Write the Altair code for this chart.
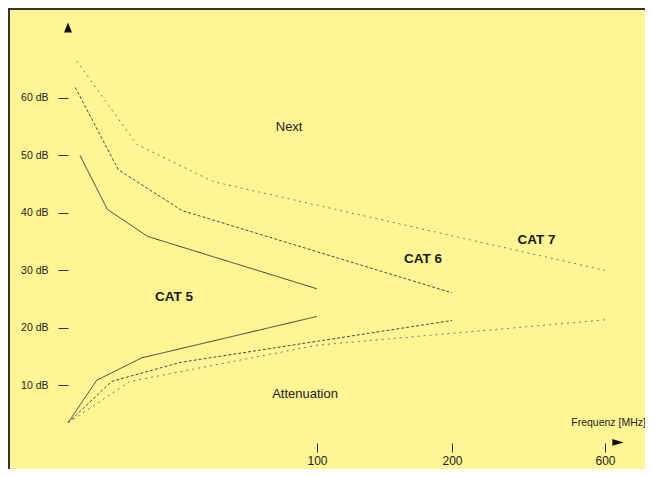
import altair as alt
import pandas as pd

# ---- data ----
cat5_next_f = [4.8, 15.8, 32, 100]
cat5_next_db = [50.0, 40.6, 35.9, 26.8]
cat5_att_f = [0, 11.5, 29.6, 100]
cat5_att_db = [3.5, 10.9, 14.8, 22.0]

cat6_next_f = [2.9, 20.2, 45.8, 200]
cat6_next_db = [61.8, 47.5, 40.4, 26.1]
cat6_att_f = [0, 17.5, 45, 200]
cat6_att_db = [3.5, 10.7, 14.0, 21.3]

cat7_next_f = [3.5, 27.6, 58.6, 600]
cat7_next_db = [66.4, 51.9, 45.4, 30.0]
cat7_att_f = [0, 24.9, 100, 600]
cat7_att_db = [3.5, 10.7, 17.0, 21.4]

x_ticks = [100, 200, 600]
y_ticks = [10, 20, 30, 40, 50, 60]

label_texts = ["Next", "Attenuation"]
label_f = [88.8, 95.2]
label_db = [55.0, 8.5]

cat_texts = ["CAT 5", "CAT 6", "CAT 7"]
cat_f = [42.6, 178.5, 421]
cat_db = [25.3, 31.9, 35.2]

axis_title = ["Frequenz [MHz]"]
axis_title_f = [707]
axis_title_db = [3.5]

# ---- build table ----
rows = []
def add(series, kind, fs, dbs):
    for f, d in zip(fs, dbs):
        rows.append({"freq": f, "db": d, "series": series, "group": series + " " + kind})

add("CAT 5", "Next", cat5_next_f, cat5_next_db)
add("CAT 5", "Att", cat5_att_f, cat5_att_db)
add("CAT 6", "Next", cat6_next_f, cat6_next_db)
add("CAT 6", "Att", cat6_att_f, cat6_att_db)
add("CAT 7", "Next", cat7_next_f, cat7_next_db)
add("CAT 7", "Att", cat7_att_f, cat7_att_db)
df = pd.DataFrame(rows)

FONT = "Liberation Sans"

x_scale = alt.Scale(type="linear", domain=[0, 100, 200, 600], range=[0, 249, 384, 537], zero=False, nice=False)
y_scale = alt.Scale(domain=[0, 73], zero=False, nice=False)

x_axis = alt.Axis(values=x_ticks, tickSize=9, domain=False, grid=False, labelFontSize=12,
                  labelPadding=3, title=None, tickColor="#333", labelColor="#222",
                  labelFont=FONT, labelFlush=False)
y_axis = alt.Axis(values=y_ticks, labelExpr="datum.value + ' dB'", tickSize=10, domain=False,
                  grid=False, labelFontSize=10.5, labelPadding=10, title=None,
                  tickColor="#333", labelColor="#222", labelFont=FONT)

lines = alt.Chart(df).mark_line(strokeWidth=1, clip=False).encode(
    x=alt.X("freq:Q", scale=x_scale, axis=x_axis),
    y=alt.Y("db:Q", scale=y_scale, axis=y_axis),
    detail="group:N",
    color=alt.Color("series:N", scale=alt.Scale(domain=["CAT 5", "CAT 6", "CAT 7"],
                                                 range=["#3a3a3a", "#4a4a4a", "#7a7a6a"]), legend=None),
    strokeDash=alt.StrokeDash("series:N", scale=alt.Scale(domain=["CAT 5", "CAT 6", "CAT 7"],
                                                           range=[[1, 0], [3, 2], [2, 4]]), legend=None),
)

lbl_df = pd.DataFrame({"t": label_texts, "freq": label_f, "db": label_db})
labels = alt.Chart(lbl_df).mark_text(font=FONT, fontSize=13, color="#222").encode(
    x=alt.X("freq:Q", scale=x_scale), y=alt.Y("db:Q", scale=y_scale), text="t:N")

cat_df = pd.DataFrame({"t": cat_texts, "freq": cat_f, "db": cat_db})
cats = alt.Chart(cat_df).mark_text(font=FONT, fontSize=13.5, fontWeight="bold", color="#1a1a1a").encode(
    x=alt.X("freq:Q", scale=x_scale), y=alt.Y("db:Q", scale=y_scale), text="t:N")

at_df = pd.DataFrame({"t": axis_title, "freq": axis_title_f, "db": axis_title_db})
atitle = alt.Chart(at_df).mark_text(font=FONT, fontSize=10.5, align="right", color="#222").encode(
    x=alt.X("freq:Q", scale=x_scale), y=alt.Y("db:Q", scale=y_scale), text="t:N")

up_df = pd.DataFrame({"freq": [0], "db": [72.2]})
up_arrow = alt.Chart(up_df).mark_point(shape="M-0.8,1L0,-1L0.8,1Z", filled=True, size=100,
                                       color="#111", opacity=1).encode(
    x=alt.X("freq:Q", scale=x_scale), y=alt.Y("db:Q", scale=y_scale))

right_df = pd.DataFrame({"freq": [634], "db": [0.1]})
right_arrow = alt.Chart(right_df).mark_point(shape="M-1,-0.6L1,0L-1,0.6Z", filled=True, size=130,
                                             color="#111", opacity=1, strokeWidth=0.5).encode(
    x=alt.X("freq:Q", scale=x_scale), y=alt.Y("db:Q", scale=y_scale))

one = pd.DataFrame({"a": [0]})
frame_left = alt.Chart(one).mark_rule(color="#333", strokeWidth=2).encode(
    x=alt.value(-59), y=alt.value(-14), y2=alt.value(446))
frame_top = alt.Chart(one).mark_rule(color="#333", strokeWidth=2).encode(
    x=alt.value(-60), x2=alt.value(577), y=alt.value(-14))

chart = alt.layer(
    lines, labels, cats, atitle, up_arrow, right_arrow, frame_left, frame_top
).properties(
    width=555, height=420,
    padding={"left": 60, "top": 15, "right": 22, "bottom": 26},
    autosize=alt.AutoSizeParams(type="none"),
).configure(background="#fff595").configure_view(stroke=None)

chart.save("out.html", embed_options={"renderer": "svg", "actions": False})
